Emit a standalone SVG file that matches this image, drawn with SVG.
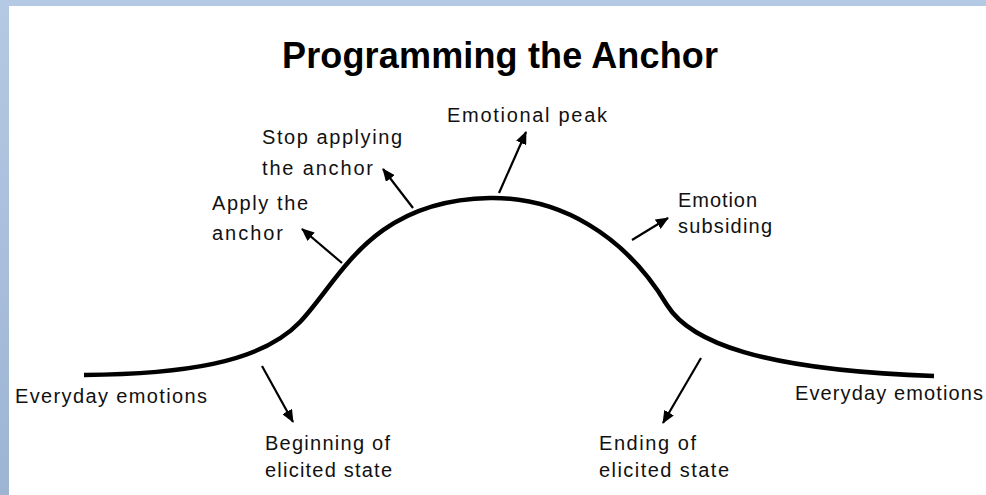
<svg xmlns="http://www.w3.org/2000/svg" width="986" height="495" viewBox="0 0 986 495">
<defs>
<linearGradient id="bg" x1="0" y1="0" x2="0" y2="1">
<stop offset="0" stop-color="#b4c9e3"/>
<stop offset="1" stop-color="#9db4d3"/>
</linearGradient>
<marker id="ah" viewBox="0 0 13 11" refX="12" refY="5.5" markerUnits="userSpaceOnUse" markerWidth="13" markerHeight="11" orient="auto">
<path d="M0,0 L13,5.5 L0,11 z" fill="#000"/>
</marker>
<style>
.t{font-family:"Liberation Sans",Arial,sans-serif;font-size:20px;fill:#111;}
.title{font-family:"Liberation Sans",Arial,sans-serif;font-size:36px;font-weight:bold;fill:#000;}
.c{stroke:#000;stroke-width:2.2;fill:none;marker-end:url(#ah);}
</style>
</defs>
<rect x="0" y="0" width="986" height="495" fill="url(#bg)"/>
<rect x="9" y="6" width="977" height="489" fill="#fff"/>
<text class="title" x="500" y="68" text-anchor="middle" textLength="436">Programming the Anchor</text>
<g id="curve">
<path d="M84,375 C180,374 260,364 300,322 C340,280 370,200 490,198 C560,197 625,235 667,305 C690,342 760,370 934,376" fill="none" stroke="#000" stroke-width="4.5" stroke-linecap="butt"/>
</g>
<g id="connectors">
<line class="c" x1="342" y1="263" x2="302" y2="229"/>
<line class="c" x1="413" y1="208" x2="383" y2="169"/>
<line class="c" x1="499" y1="193" x2="526" y2="132"/>
<line class="c" x1="632" y1="240" x2="668" y2="218"/>
<line class="c" x1="262" y1="366" x2="293" y2="422"/>
<line class="c" x1="701" y1="358" x2="663" y2="423"/>
</g>
<g id="n-everyday-left"><text class="t" x="15" y="403" textLength="192">Everyday emotions</text></g>
<g id="n-beginning"><text class="t" x="265" y="450" textLength="125">Beginning of</text><text class="t" x="265" y="477" textLength="127">elicited state</text></g>
<g id="n-apply"><text class="t" x="212" y="210" textLength="96">Apply the</text><text class="t" x="212" y="240" textLength="71">anchor</text></g>
<g id="n-stop"><text class="t" x="262" y="144" textLength="140">Stop applying</text><text class="t" x="262" y="175" textLength="111">the anchor</text></g>
<g id="n-peak"><text class="t" x="447" y="122" textLength="160">Emotional peak</text></g>
<g id="n-subsiding"><text class="t" x="678" y="207" textLength="79">Emotion</text><text class="t" x="678" y="233" textLength="94">subsiding</text></g>
<g id="n-ending"><text class="t" x="599" y="450" textLength="97">Ending of</text><text class="t" x="599" y="477" textLength="130">elicited state</text></g>
<g id="n-everyday-right"><text class="t" x="795" y="400" textLength="188">Everyday emotions</text></g>
</svg>
